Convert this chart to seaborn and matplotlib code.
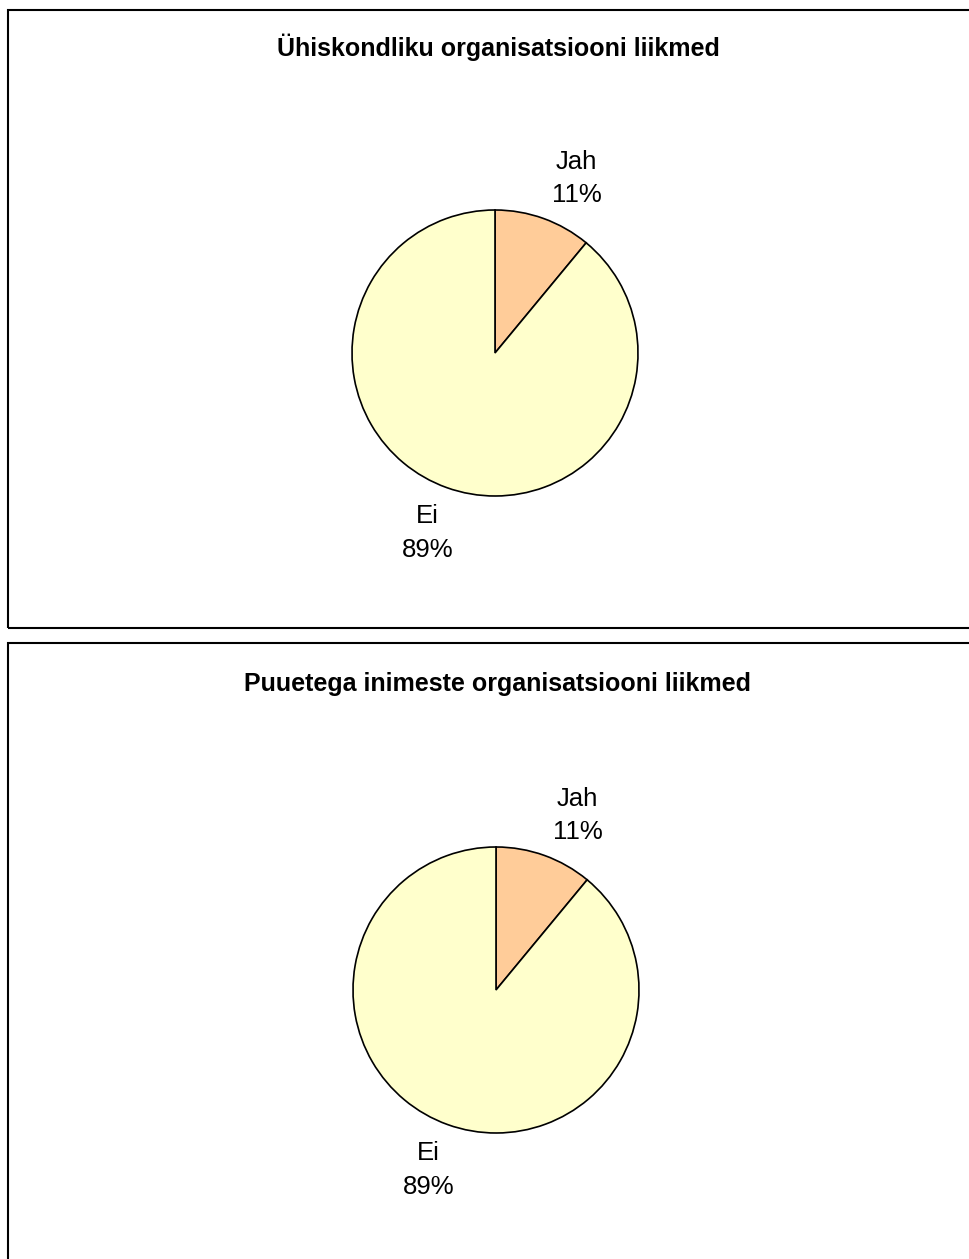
import matplotlib
matplotlib.use("Agg")
import matplotlib.pyplot as plt
import seaborn as sns
from matplotlib.patches import Rectangle

# Data
titles = ["Ühiskondliku organisatsiooni liikmed",
          "Puuetega inimeste organisatsiooni liikmed"]
categories = ["Jah", "Ei"]
shares = [[11, 89], [11, 89]]
colors = ["#FFCC99", "#FFFFCC"]

sns.set_theme(style="white")
plt.rcParams["font.family"] = ["Liberation Sans", "DejaVu Sans"]

W, H = 970, 1259
fig = plt.figure(figsize=(W / 100, H / 100), dpi=100)
fig.patch.set_facecolor("white")

# panel frames (pixels: x0, y_top, y_bottom)
frames = [(8, 10, 628), (8, 643, 1270)]
centers = [(495, 353), (496, 990)]
radius = 143
title_y = [47, 684]

for i in range(2):
    x0, yt, yb = frames[i]
    fig.patches.append(Rectangle((x0 / W, 1 - yb / H), (W + 20 - x0) / W, (yb - yt) / H,
                                 transform=fig.transFigure, fill=False,
                                 edgecolor="black", linewidth=1.5))
    fig.text(498 / W, 1 - title_y[i] / H, titles[i], ha="center", va="center",
             fontsize=18, fontweight="bold", color="black")

    cx, cy = centers[i]
    span = radius * 1.6
    ax = fig.add_axes([(cx - span) / W, 1 - (cy + span) / H, 2 * span / W, 2 * span / H])
    ax.pie(shares[i], colors=colors, startangle=90, counterclock=False,
           wedgeprops=dict(edgecolor="black", linewidth=1.2))
    ax.set_xlim(-1.6, 1.6)
    ax.set_ylim(-1.6, 1.6)
    ax.set_aspect("equal")
    ax.axis("off")

    ax.text(0.57, 1.22, f"{categories[0]}\n{shares[i][0]}%", ha="center", va="center",
            fontsize=18.5, linespacing=1.5, color="black")
    ax.text(-0.47, -1.26, f"{categories[1]}\n{shares[i][1]}%", ha="center", va="center",
            fontsize=18.5, linespacing=1.5, color="black")

fig.savefig("out.png", dpi=100, facecolor="white")
